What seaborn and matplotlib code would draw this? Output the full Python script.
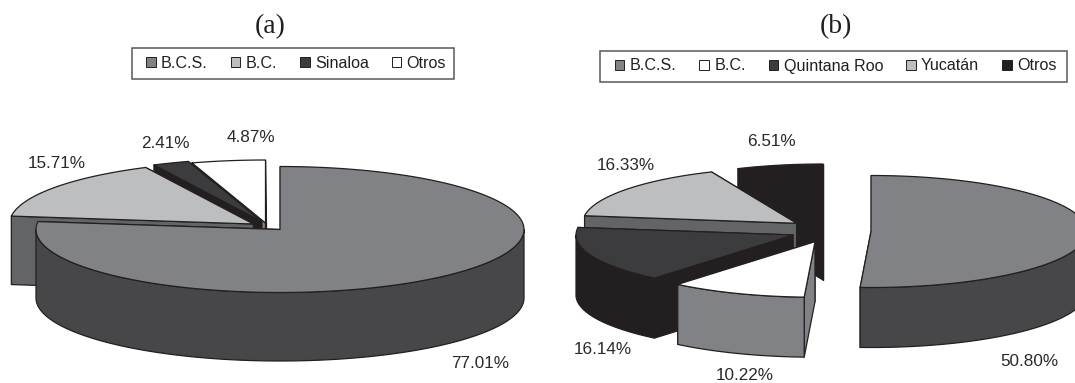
import numpy as np
import matplotlib
matplotlib.use("Agg")
import matplotlib.pyplot as plt
from matplotlib.patches import Polygon, Patch, Rectangle
import seaborn as sns

# Shares of each state, in per cent, clockwise from twelve o'clock
states_a = ["B.C.S.", "B.C.", "Sinaloa", "Otros"]
shares_a = [77.01, 15.71, 2.41, 4.87]
labels_a = ["77.01%", "15.71%", "2.41%", "4.87%"]

states_b = ["B.C.S.", "B.C.", "Quintana Roo", "Yucatán", "Otros"]
shares_b = [50.80, 10.22, 16.14, 16.33, 6.51]
labels_b = ["50.80%", "10.22%", "16.14%", "16.33%", "6.51%"]

# Grey shades: upper surface and side wall of each slice
top_a = sns.color_palette(["#808285", "#bcbec0", "#3c3c3e", "#ffffff"])
wall_a = sns.color_palette(["#47474a", "#636466", "#231f20", "#808285"])
top_b = sns.color_palette(["#808285", "#ffffff", "#3c3c3e", "#bcbec0", "#231f20"])
wall_b = sns.color_palette(["#47474a", "#808285", "#231f20", "#636466", "#231f20"])

# Layout, in figure pixels: apex of each exploded slice, radii, thickness
apex_a = [(280, 229.5), (253.4, 224), (261.7, 221.5), (265.5, 223)]
radii_a = [(244, 63)] * 4
depth_a = 68.5
text_a = [(480.5, 363), (57, 164), (165.5, 143), (251, 138)]

apex_b = [(871, 231.5), (815, 241.7), (793, 235), (796.6, 223.3), (823, 220)]
radii_b = [(216, 56), (215, 55.5), (217, 56), (214, 56), (214, 56)]
depth_b = 60
text_b = [(1029, 361), (745, 376), (603, 349), (626, 166), (771, 141)]

sns.set_theme(style="white", rc={"font.family": ["Liberation Sans", "DejaVu Sans"]})

EDGE = "#231f20"


def rim(apex, radii, theta):
    """Rim point(s) of an oblique pie; theta in degrees clockwise from the top."""
    t = np.radians(theta)
    return apex[0] + radii[0] * np.sin(t), apex[1] - radii[1] * np.cos(t)


def draw_slice(ax, apex, radii, depth, start, end, top, wall, z):
    poly = dict(edgecolor=EDGE, linewidth=0.9, joinstyle="round", zorder=z)
    # Cut faces, the rearmost first
    faces = []
    for theta in (start, end):
        x, y = rim(apex, radii, theta)
        faces.append([(apex[0], apex[1]), (x, y), (x, y + depth), (apex[0], apex[1] + depth)])
    faces.sort(key=lambda f: f[1][1])
    for f in faces:
        ax.add_patch(Polygon(f, closed=True, facecolor=wall, **poly))
    # Outer wall: only the half of the rim that faces the viewer
    lo, hi = max(start, 90), min(end, 270)
    if hi > lo:
        th = np.linspace(lo, hi, 120)
        x, y = rim(apex, radii, th)
        outline = np.r_[np.c_[x, y], np.c_[x, y + depth][::-1]]
        ax.add_patch(Polygon(outline, closed=True, facecolor=wall, **poly))
    # Upper surface
    th = np.linspace(start, end, 240)
    x, y = rim(apex, radii, th)
    outline = np.r_[[apex], np.c_[x, y]]
    ax.add_patch(Polygon(outline, closed=True, facecolor=top, **poly))


def draw_pie(ax, shares, apexes, radii, depth, tops, walls, labels, places, order):
    edges = np.r_[0, np.cumsum(shares)] * 360 / 100
    for z, i in enumerate(order):
        draw_slice(ax, apexes[i], radii[i], depth, edges[i], edges[i + 1], tops[i], walls[i], 2 + z)
    for lab, (x, y) in zip(labels, places):
        ax.text(x, y, lab, ha="center", va="center", fontsize=12.3, color="#2b2829", zorder=20)


def add_legend(ax, names, tops, centre, box):
    handles = [Patch(facecolor=c, edgecolor="#231f20", linewidth=0.7, label=n)
               for n, c in zip(names, tops)]
    # The frame is wider on the left than the entries need, so it is drawn on its own
    ax.legend(handles=handles, ncol=len(names), loc="center", bbox_to_anchor=centre,
              bbox_transform=ax.transData, fontsize=11.6, frameon=False,
              handlelength=0.6, handleheight=0.6, handletextpad=0.33, columnspacing=1.42,
              borderpad=0, borderaxespad=0, labelcolor="#231f20")
    x0, y0, x1, y1 = box
    ax.add_patch(Rectangle((x0, y0), x1 - x0, y1 - y0, facecolor="white",
                           edgecolor="#58595b", linewidth=1.1, zorder=1))


fig = plt.figure(figsize=(10.75, 3.83), dpi=100, facecolor="white")
ax_a = fig.add_axes([0, 0, 540 / 1075, 1])
ax_b = fig.add_axes([540 / 1075, 0, 535 / 1075, 1])
ax_a.set_xlim(0, 540)
ax_b.set_xlim(540, 1075)
for ax in (ax_a, ax_b):
    ax.set_ylim(383, 0)
    ax.axis("off")

draw_pie(ax_a, shares_a, apex_a, radii_a, depth_a, top_a, wall_a, labels_a, text_a, [3, 2, 1, 0])
draw_pie(ax_b, shares_b, apex_b, radii_b, depth_b, top_b, wall_b, labels_b, text_b, [4, 3, 2, 1, 0])

add_legend(ax_a, states_a, top_a, (296, 63.5), (131.7, 47.7, 454.3, 79))
add_legend(ax_b, states_b, top_b, (835.5, 66), (600, 51, 1067, 82))

ax_a.text(270.5, 27, "(a)", ha="center", va="center", fontsize=20,
          family="Liberation Serif", color="#231f20")
ax_b.text(836, 27, "(b)", ha="center", va="center", fontsize=20,
          family="Liberation Serif", color="#231f20")

fig.savefig("out.png", dpi=100)
